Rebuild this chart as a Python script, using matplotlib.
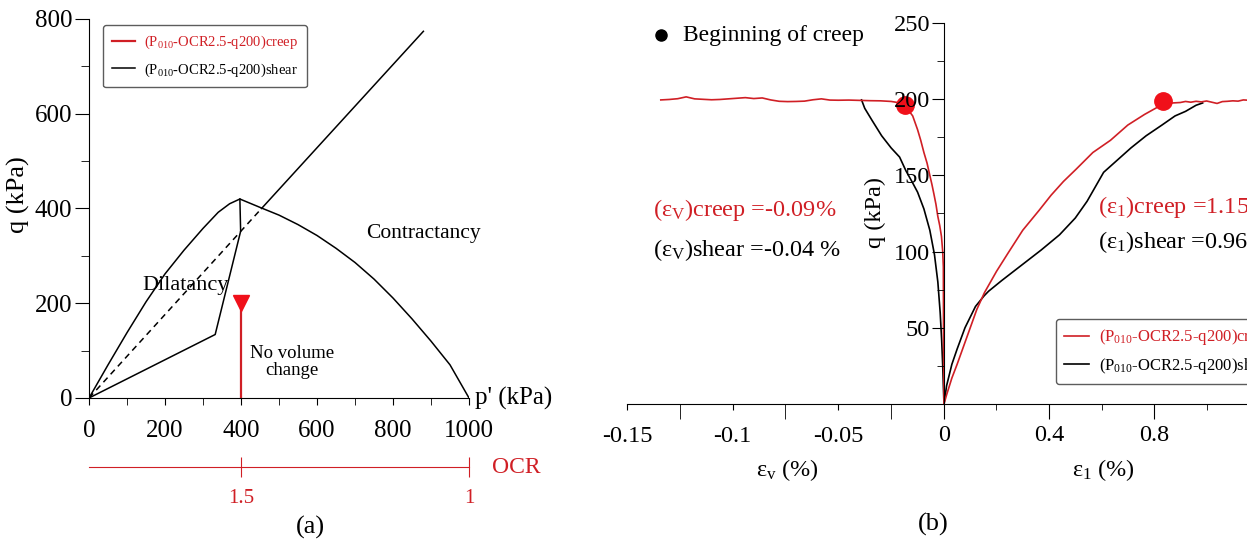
import matplotlib
matplotlib.use("Agg")
import matplotlib.pyplot as plt

plt.rcParams['font.family'] = ['Liberation Serif', 'DejaVu Serif']
plt.rcParams['mathtext.fontset'] = 'custom'
plt.rcParams['mathtext.rm'] = 'Liberation Serif'
plt.rcParams['mathtext.it'] = 'Liberation Serif:italic'

RED = '#d01f25'
DOT = '#f0101a'

# ---- (a) p'-q plane ----
csl_p_dash = [0, 454]
csl_q_dash = [0, 400]
csl_p = [454, 880]
csl_q = [400, 774]
yield_p = [0, 50, 100, 150, 200, 250, 300, 340, 370, 397,
           454, 500, 550, 600, 650, 700, 750, 800, 850, 900, 950, 1000]
yield_q = [0, 70, 138, 203, 262, 312, 358, 392, 410, 420,
           401, 386, 366, 343, 316, 286, 251, 211, 167, 120, 70, 0]
path_p = [0, 332, 399, 397]
path_q = [0, 134, 352, 420]
creep_p = [400, 400]
creep_q = [0, 200]
ocr_pos = [400, 1000]
ocr_lab = ['1.5', '1']

# ---- (b) q vs strains ----
ev_creep = [0, -0.0002, -0.0003, -0.0006, -0.0012, -0.0020, -0.0029, -0.0038, -0.0048,
            -0.0057, -0.0067, -0.0080, -0.0095, -0.0110, -0.0125, -0.0148, -0.0175, -0.0186,
            -0.021, -0.025, -0.030, -0.035, -0.040, -0.045, -0.050, -0.054, -0.058,
            -0.062, -0.066, -0.070, -0.074, -0.078, -0.082, -0.086, -0.090, -0.094,
            -0.098, -0.102, -0.106, -0.110, -0.114, -0.118, -0.122, -0.126, -0.130, -0.134]
q_ev_creep = [0, 40, 90, 100, 110, 117, 123, 131, 138,
              144, 150, 158, 165, 173, 180, 189, 194, 196,
              197.6, 198.5, 198.9, 199.0, 199.2, 199.4, 199.3, 199.4, 200.2,
              199.6, 198.7, 198.5, 198.4, 198.6, 199.5, 200.8, 200.4, 201.0,
              200.6, 200.2, 199.8, 199.6, 199.9, 200.2, 201.5, 200.3, 199.8, 199.5]
ev_shear = [0, -0.0003, -0.0006, -0.0011, -0.0018, -0.0029, -0.0045, -0.0067, -0.0095,
            -0.0125, -0.0148, -0.018, -0.021, -0.025, -0.0295, -0.034, -0.0375, -0.039]
q_ev_shear = [0, 12, 25, 42, 60, 80, 98, 114, 128, 139, 145, 153, 162, 168, 176, 186, 194, 199.5]

e1_creep = [0, 0.01, 0.03, 0.05, 0.075, 0.1, 0.125, 0.154, 0.2, 0.244, 0.3, 0.362, 0.408,
            0.455, 0.503, 0.567, 0.634, 0.7, 0.764, 0.816, 0.835, 0.87, 0.9, 0.92, 0.94,
            0.96, 0.98, 1.0, 1.02, 1.04, 1.06, 1.08, 1.1, 1.12, 1.14, 1.16]
q_e1_creep = [0, 6, 17, 26, 38, 50, 62, 73, 87, 99, 114, 127, 137,
              146, 154, 165, 173, 183, 190, 195, 198.5, 197.5, 197.8, 198.5, 198.0,
              198.6, 198.2, 198.8, 198.0, 197.2, 198.4, 198.6, 198.9, 198.7, 199.5, 199.3]
e1_shear = [0, 0.01, 0.03, 0.05, 0.08, 0.12, 0.153, 0.17, 0.22, 0.31, 0.37, 0.44, 0.5,
            0.545, 0.608, 0.66, 0.712, 0.77, 0.83, 0.88, 0.92, 0.96, 0.985]
q_e1_shear = [0, 12, 26, 36, 50, 64, 71, 74, 81, 93, 101, 111, 122,
              133, 152, 160, 168, 176, 183, 189, 192, 196, 197.5]
creep_start_ev = (-0.0186, 196)
creep_start_e1 = (0.835, 199)

leg_creep = '(P$_{010}$-OCR2.5-q200)creep'
leg_shear = '(P$_{010}$-OCR2.5-q200)shear'

fig = plt.figure(figsize=(12.47, 5.44), dpi=100)

# ================= (a) =================
ax = fig.add_axes([0.0714, 0.2684, 0.3047, 0.6967])
ax.plot(yield_p, yield_q, color='black', lw=1.1)
ax.plot(csl_p_dash, csl_q_dash, color='black', lw=1.1, ls=(0, (4, 3)))
ax.plot(csl_p, csl_q, color='black', lw=1.1)
ax.plot(path_p, path_q, color='black', lw=1.1, label=leg_shear)
ax.plot(creep_p, creep_q, color=RED, lw=1.6, label=leg_creep)
ax.plot([creep_p[-1]], [creep_q[-1]], marker='v', ms=11, color=DOT, clip_on=False)
ax.set_xlim(0, 1000)
ax.set_ylim(0, 800)
ax.spines['top'].set_visible(False)
ax.spines['right'].set_visible(False)
ax.set_xticks(range(0, 1001, 200))
ax.set_xticks(range(100, 1000, 200), minor=True)
ax.set_yticks(range(0, 801, 200))
ax.set_yticks(range(100, 800, 200), minor=True)
ax.tick_params(axis='x', which='both', direction='out', length=5, labelsize=18, pad=11)
ax.tick_params(axis='y', which='major', direction='out', length=10, labelsize=18, pad=2)
ax.tick_params(axis='y', which='minor', direction='out', length=6)
fig.text(18 / 1247, 1 - 195 / 544, 'q (kPa)', rotation=90, fontsize=19, ha='center', va='center')
ax.text(1015, 0, "p' (kPa)", fontsize=18, va='center', ha='left')
ax.text(253, 237, 'Dilatancy', fontsize=16, ha='center', va='center')
ax.text(880, 348, 'Contractancy', fontsize=15.5, ha='center', va='center')
ax.text(535, 75, 'No volume\nchange', fontsize=13.5, ha='center', va='center', linespacing=1.0)
h, l = ax.get_legend_handles_labels()
leg = ax.legend(h[::-1], l[::-1], loc='upper left', bbox_to_anchor=(0.037, 0.984),
                borderaxespad=0, fontsize=10.5, frameon=True, fancybox=True,
                edgecolor='#333333', handlelength=1.6, handletextpad=0.6,
                borderpad=0.6, labelspacing=0.7)
leg.get_frame().set_linewidth(1.0)
leg.get_texts()[0].set_color(RED)

# OCR scale
ax_ocr = fig.add_axes([0.0714, 0.1415, 0.3047, 0.0001])
ax_ocr.set_xlim(0, 1000)
for s in ['top', 'right', 'left']:
    ax_ocr.spines[s].set_visible(False)
ax_ocr.spines['bottom'].set_color(RED)
ax_ocr.set_yticks([])
ax_ocr.set_xticks(ocr_pos)
ax_ocr.set_xticklabels(ocr_lab)
ax_ocr.tick_params(axis='x', direction='inout', length=15, color=RED, labelcolor=RED,
                   labelsize=15, pad=8)
ax_ocr.text(1060, 0, 'OCR', color=RED, fontsize=17, va='center', ha='left')
fig.text(310 / 1247, 1 - 527 / 544, '(a)', fontsize=19, ha='center', va='center')

# ================= (b) =================
axl = fig.add_axes([0.5028, 0.2574, 0.2542, 0.7004])
axr = fig.add_axes([0.7570, 0.2574, 0.2430, 0.7004])
for a in (axl, axr):
    a.set_ylim(0, 250)
    a.spines['top'].set_visible(False)
    a.spines['right'].set_visible(False)
    a.patch.set_alpha(0)
axl.set_xlim(-0.15, 0)
axr.set_xlim(0, 1.154)
axl.spines['left'].set_visible(False)
axl.set_yticks([])

axl.plot(ev_shear, q_ev_shear, color='black', lw=1.2)
axl.plot(ev_creep, q_ev_creep, color=RED, lw=1.2)
axl.plot([creep_start_ev[0]], [creep_start_ev[1]], 'o', ms=12.5, color=DOT, clip_on=False, zorder=5)
axr.plot(e1_shear, q_e1_shear, color='black', lw=1.2, label=leg_shear)
axr.plot(e1_creep, q_e1_creep, color=RED, lw=1.2, label=leg_creep)
axr.plot([creep_start_e1[0]], [creep_start_e1[1]], 'o', ms=12.5, color=DOT, clip_on=False, zorder=5)

axl.set_xticks([-0.15, -0.1, -0.05])
axl.set_xticklabels(['-0.15', '-0.1', '-0.05'])
axl.set_xticks([-0.125, -0.075, -0.025], minor=True)
axl.tick_params(axis='x', which='major', direction='out', length=4, labelsize=17.5, pad=12)
axl.tick_params(axis='x', which='minor', direction='out', length=11)

axr.set_xticks([0, 0.4, 0.8])
axr.set_xticklabels(['0', '0.4', '0.8'])
axr.set_xticks([0.2, 0.6, 1.0], minor=True)
axr.tick_params(axis='x', which='major', direction='out', length=11, labelsize=17.5, pad=4)
axr.tick_params(axis='x', which='minor', direction='out', length=4)
axr.set_yticks([50, 100, 150, 200, 250])
axr.set_yticks([25, 75, 125, 175, 225], minor=True)
axr.tick_params(axis='y', which='major', direction='out', length=9, labelsize=17.5, pad=1)
axr.tick_params(axis='y', which='minor', direction='out', length=5)

fig.text(875 / 1247, 1 - 212 / 544, 'q (kPa)', rotation=90, fontsize=17.5, ha='center', va='center')
fig.text(787 / 1247, 1 - 470 / 544, r'ε$_\mathrm{v}$ (%)', fontsize=17.5, ha='center', va='center')
fig.text(1103 / 1247, 1 - 470 / 544, r'ε$_\mathrm{1}$ (%)', fontsize=17.5, ha='center', va='center')
fig.text(933 / 1247, 1 - 524 / 544, '(b)', fontsize=19, ha='center', va='center')

axl.plot([-0.134], [242], 'o', ms=8, color='black', clip_on=False)
axl.text(-0.1235, 242, 'Beginning of creep', fontsize=17, va='center', ha='left')
axl.text(-0.1377, 127, r'(ε$_\mathrm{V}$)creep =-0.09%', fontsize=17.5, color=RED, va='center')
axl.text(-0.1377, 101, r'(ε$_\mathrm{V}$)shear =-0.04 %', fontsize=17.5, color='black', va='center')
axr.text(0.587, 129, r'(ε$_\mathrm{1}$)creep =1.15%', fontsize=17.5, color=RED, va='center')
axr.text(0.587, 106, r'(ε$_\mathrm{1}$)shear =0.96%', fontsize=17.5, color='black', va='center')

h, l = axr.get_legend_handles_labels()
legb = axr.legend(h[::-1], l[::-1], loc='upper left', bbox_to_anchor=(0.37, 0.223),
                  borderaxespad=0, fontsize=12, frameon=True, fancybox=True,
                  edgecolor='#333333', handlelength=1.5, handletextpad=0.6,
                  borderpad=0.5, labelspacing=0.5)
legb.get_frame().set_linewidth(1.0)
legb.get_texts()[0].set_color(RED)

fig.savefig('out.png', dpi=100)
